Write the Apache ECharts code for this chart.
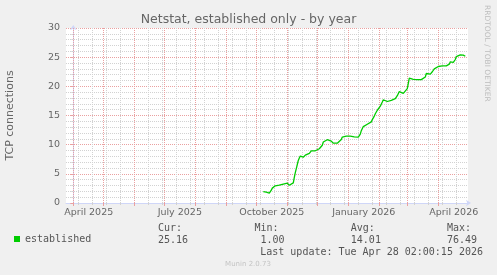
<!DOCTYPE html>
<html><head><meta charset="utf-8">
<script src="https://cdn.jsdelivr.net/npm/echarts@6/dist/echarts.min.js"></script>
<style>html,body{margin:0;padding:0;background:#F0F0F0;} #c{width:497px;height:275px;}</style>
</head><body><div id="c"></div>
<script>
// ---------- data ----------
const TITLE = 'Netstat, established only - by year';
const Y_NAME = 'TCP connections';
const SERIES_NAME = 'established';
const dates = [
'2025-10-08','2025-10-09','2025-10-10','2025-10-11','2025-10-12','2025-10-13','2025-10-14','2025-10-15','2025-10-16','2025-10-17',
'2025-10-18','2025-10-19','2025-10-20','2025-10-22','2025-10-24','2025-10-26','2025-10-28','2025-10-30','2025-11-01','2025-11-02',
'2025-11-03','2025-11-05','2025-11-07','2025-11-08','2025-11-09','2025-11-10','2025-11-11','2025-11-12','2025-11-13','2025-11-14',
'2025-11-16','2025-11-17','2025-11-19','2025-11-21','2025-11-23','2025-11-25','2025-11-27','2025-11-29','2025-12-01','2025-12-03',
'2025-12-05','2025-12-06','2025-12-07','2025-12-09','2025-12-11','2025-12-13','2025-12-15','2025-12-17','2025-12-19','2025-12-21',
'2025-12-23','2025-12-25','2025-12-26','2025-12-28','2025-12-30','2026-01-01','2026-01-03','2026-01-05','2026-01-07','2026-01-09',
'2026-01-11','2026-01-13','2026-01-14','2026-01-16','2026-01-18','2026-01-20','2026-01-22','2026-01-24','2026-01-25','2026-01-27',
'2026-01-28','2026-01-30','2026-01-31','2026-02-02','2026-02-03','2026-02-04','2026-02-05','2026-02-07','2026-02-09','2026-02-11',
'2026-02-13','2026-02-15','2026-02-17','2026-02-19','2026-02-21','2026-02-23','2026-02-25','2026-02-27','2026-03-01','2026-03-02',
'2026-03-03','2026-03-05','2026-03-07','2026-03-09','2026-03-11','2026-03-13','2026-03-15','2026-03-17','2026-03-19','2026-03-20',
'2026-03-22','2026-03-24','2026-03-26','2026-03-28','2026-03-30','2026-04-01','2026-04-03','2026-04-05','2026-04-07','2026-04-09',
'2026-04-11','2026-04-12','2026-04-13','2026-04-15','2026-04-16','2026-04-18','2026-04-19','2026-04-21','2026-04-23','2026-04-25',
'2026-04-26','2026-04-27','2026-04-28'
];
const values = [
1.95,2.05,2.15,1.85,1.6,1.55,1.7,1.85,2.2,2.55,
2.7,2.85,2.95,2.9,3.05,3.0,3.25,3.3,3.4,3.2,
3.05,3.35,3.45,4.4,5.2,5.9,6.6,7.3,7.7,8.05,
7.95,7.85,8.2,8.35,8.5,8.95,9.0,8.95,9.15,9.3,
9.45,9.9,10.45,10.7,10.85,10.75,10.6,10.25,10.15,10.25,
10.4,10.9,11.3,11.4,11.45,11.5,11.45,11.5,11.35,11.05,
11.3,11.8,12.4,13.1,13.4,13.5,13.7,13.9,14.3,14.9,
15.3,15.9,16.2,16.6,16.8,17.3,17.7,17.5,17.4,17.7,
17.6,17.4,17.9,18.4,19.1,18.9,18.8,18.8,19.6,20.5,
21.4,21.3,21.2,21.25,21.15,21.2,21.15,21.1,21.6,22.2,
22.15,22.1,22.5,23.0,23.2,23.4,23.45,23.5,23.45,23.5,
23.4,23.8,24.2,24.15,24.1,24.6,25.1,25.3,25.4,25.4,
25.35,25.2,25.16
];
const yTicks = [0, 5, 10, 15, 20, 25, 30];
const monthStarts = ['2025-04-01','2025-05-01','2025-06-01','2025-07-01','2025-08-01','2025-09-01','2025-10-01',
  '2025-11-01','2025-12-01','2026-01-01','2026-02-01','2026-03-01','2026-04-01'];
const labelMonths = ['2025-04-01','2025-07-01','2025-10-01','2026-01-01','2026-04-01'];
const labelTexts = ['April 2025','July 2025','October 2025','January 2026','April 2026'];
const statNames = ['Cur:','Min:','Avg:','Max:'];
const statValues = ['25.16',' 1.00','14.01','76.49'];
const lastUpdate = 'Last update: Tue Apr 28 02:00:15 2026';
const watermark = 'Munin 2.0.73';
const sideText = 'RRDTOOL / TOBI OETIKER';

// ---------- helpers ----------
const DAY0 = Date.UTC(2025, 3, 1);
const toDay = s => (Date.parse(s + 'T00:00:00Z') - DAY0) / 864e5;
const X_MIN = -7.3, X_MAX = 394.7;
const monthDays = monthStarts.map(toDay);
const labelDays = labelMonths.map(d => toDay(d) + 15.5);
const weekDays = [];
for (let d = toDay('2025-04-06'); d <= X_MAX; d += 14) weekDays.push(d);

const FONT = '"DejaVu Sans", sans-serif';
const MONO = '"DejaVu Sans Mono", monospace';
const TXT = '#666666';
const AXIS = '#CFD6F8';
const GRIDC = '#D2D2D2';
const MGRIDC = '#EAA0A0';

const chart = echarts.init(document.getElementById('c'), null, {renderer: 'canvas'});

const statGraphics = [];
const colX = [158, 254.5, 350.8, 447];
statNames.forEach((n, i) => {
  statGraphics.push({type: 'text', x: colX[i], y: 228, style: {text: n, fill: '#555', font: '10px ' + MONO, align: 'left', verticalAlign: 'middle'}});
  statGraphics.push({type: 'text', x: colX[i], y: 240, style: {text: statValues[i], fill: '#555', font: '10px ' + MONO, align: 'left', verticalAlign: 'middle'}});
});

chart.setOption({
  animation: false,
  backgroundColor: '#F0F0F0',
  title: {
    text: TITLE, left: 'center', top: 13, padding: 0,
    textStyle: {fontFamily: FONT, fontSize: 12.5, fontWeight: 'normal', color: TXT}
  },
  legend: {
    data: [SERIES_NAME], left: 14, top: 234, padding: 0, icon: 'rect', itemWidth: 6, itemHeight: 6,
    selectedMode: false,
    textStyle: {fontFamily: MONO, fontSize: 10, color: '#555'}
  },
  grid: {left: 66, right: 29, top: 28, bottom: 72, show: true, backgroundColor: '#FFFFFF', borderWidth: 0},
  xAxis: [
    {
      type: 'value', min: X_MIN, max: X_MAX, position: 'bottom',
      axisLine: {show: true, lineStyle: {color: AXIS, width: 1}, symbol: ['none', 'arrow'], symbolSize: [5, 5], symbolOffset: [0, 3]},
      axisTick: {show: true, customValues: weekDays, length: 2, lineStyle: {color: GRIDC}},
      axisLabel: {show: false},
      splitLine: {show: false}
    },
    {
      type: 'value', min: X_MIN, max: X_MAX, position: 'bottom',
      axisLine: {show: false},
      axisTick: {show: true, customValues: monthDays, length: 3, lineStyle: {color: MGRIDC}},
      axisLabel: {
        show: true, customValues: labelDays, margin: 5,
        fontFamily: FONT, fontSize: 9.5, color: TXT,
        formatter: v => {
          let best = 0;
          labelDays.forEach((d, i) => { if (Math.abs(d - v) < Math.abs(labelDays[best] - v)) best = i; });
          return labelTexts[best];
        }
      },
      splitLine: {show: false}
    }
  ],
  yAxis: [
    {
      type: 'value', min: 0, max: 30, interval: 1, position: 'left',
      axisLine: {show: true, lineStyle: {color: AXIS, width: 1}, symbol: ['none', 'arrow'], symbolSize: [5, 5], symbolOffset: [0, 3]},
      axisTick: {show: true, length: 2, lineStyle: {color: GRIDC}},
      axisLabel: {show: false},
      splitLine: {show: true, lineStyle: {color: GRIDC, type: [1, 1], width: 1}}
    },
    {
      type: 'value', min: 0, max: 30, interval: 5, position: 'left',
      axisLine: {show: false},
      axisTick: {show: true, length: 3, lineStyle: {color: MGRIDC}},
      axisLabel: {show: true, margin: 6, fontFamily: FONT, fontSize: 9.5, color: TXT,
        customValues: yTicks},
      splitLine: {show: true, lineStyle: {color: MGRIDC, type: [1, 1], width: 1}}
    }
  ],
  graphic: [
    {type: 'text', x: 10.5, y: 115.5, rotation: Math.PI / 2,
      style: {text: Y_NAME, fill: TXT, font: '11px ' + FONT, align: 'center', verticalAlign: 'middle'}},
    {type: 'text', x: 487.3, y: 53.3, rotation: -Math.PI / 2,
      style: {text: sideText, fill: '#BDBDBD', font: '7.5px ' + FONT, align: 'center', verticalAlign: 'middle'}},
    {type: 'text', x: 483, y: 252, style: {text: lastUpdate, fill: '#555', font: '10px ' + MONO, align: 'right', verticalAlign: 'middle'}},
    {type: 'text', x: 248, y: 264, style: {text: watermark, fill: '#C4C4C4', font: '7px ' + FONT, align: 'center', verticalAlign: 'middle'}}
  ].concat(statGraphics),
  series: [
    {
      name: 'grid', type: 'line', data: [], xAxisIndex: 0, yAxisIndex: 0, silent: true, z: 1,
      markLine: {
        silent: true, symbol: ['none', 'none'], label: {show: false}, animation: false,
        data: weekDays.map(d => ({xAxis: d, lineStyle: {color: GRIDC, type: [1, 1], width: 1}}))
          .concat(monthDays.map(d => ({xAxis: d, lineStyle: {color: MGRIDC, type: [1, 1], width: 1}})))
      }
    },
    {
      name: SERIES_NAME, type: 'line', xAxisIndex: 0, yAxisIndex: 0, z: 5,
      data: dates.map((d, i) => [toDay(d), values[i]]),
      showSymbol: false, symbol: 'none',
      lineStyle: {color: '#00CC00', width: 1.3},
      itemStyle: {color: '#00CC00'}
    }
  ]
});
</script>
</body></html>
